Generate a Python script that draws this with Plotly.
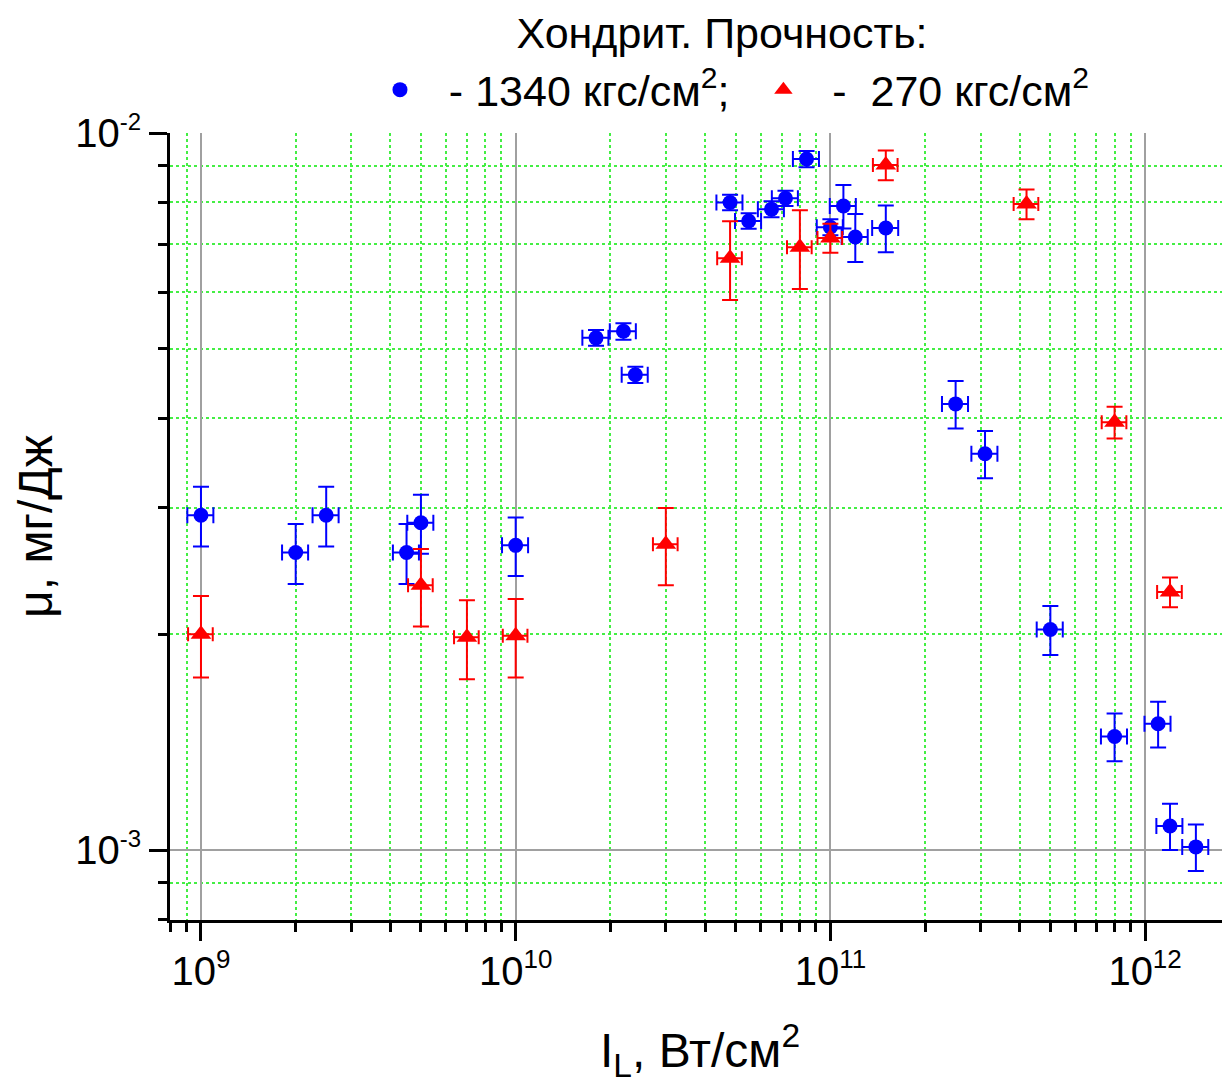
import plotly.graph_objects as go

# --- Data: chondrite, strength 1340 kgf/cm^2 (blue circles) ---
blue_x = [1e9, 2e9, 2.5e9, 4.5e9, 5e9, 1e10, 1.8e10, 2.2e10, 2.4e10, 4.8e10, 5.5e10,
          6.5e10, 7.2e10, 8.4e10, 1.0e11, 1.1e11, 1.2e11, 1.5e11, 2.5e11, 3.1e11,
          5.0e11, 8.0e11, 1.1e12, 1.2e12, 1.45e12]
blue_y = [2.93e-3, 2.60e-3, 2.93e-3, 2.60e-3, 2.86e-3, 2.66e-3, 5.18e-3, 5.29e-3, 4.60e-3,
          8.0e-3, 7.54e-3, 7.83e-3, 8.11e-3, 9.2e-3, 7.39e-3, 7.91e-3, 7.16e-3, 7.37e-3,
          4.19e-3, 3.57e-3, 2.03e-3, 1.44e-3, 1.50e-3, 1.08e-3, 1.01e-3]
blue_yerr = [0.28e-3, 0.25e-3, 0.28e-3, 0.25e-3, 0.27e-3, 0.25e-3, 0.13e-3, 0.14e-3, 0.12e-3,
             0.20e-3, 0.19e-3, 0.20e-3, 0.20e-3, 0.24e-3, 0.19e-3, 0.55e-3, 0.55e-3, 0.55e-3,
             0.32e-3, 0.27e-3, 0.16e-3, 0.11e-3, 0.11e-3, 0.08e-3, 0.075e-3]
blue_xerr_pct = 9.5

# --- Data: chondrite, strength 270 kgf/cm^2 (red triangles) ---
red_x = [1e9, 5e9, 7e9, 1e10, 3e10, 4.8e10, 8e10, 1e11, 1.5e11, 4.2e11, 8e11, 1.2e12]
red_y = [2.0e-3, 2.34e-3, 1.98e-3, 1.99e-3, 2.67e-3, 6.69e-3, 6.93e-3, 7.14e-3, 9.02e-3,
         7.96e-3, 3.95e-3, 2.29e-3]
red_yerr = [0.26e-3, 0.29e-3, 0.25e-3, 0.25e-3, 0.33e-3, 0.84e-3, 0.87e-3, 0.33e-3, 0.43e-3,
            0.38e-3, 0.20e-3, 0.11e-3]
red_xerr_pct = 9.0

# --- Tick labels ---
x_tickvals = [1e9, 1e10, 1e11, 1e12]
x_ticktext = ["10<sup><span style='font-size:26px'>9</span></sup>",
              "10<sup><span style='font-size:26px'>10</span></sup>",
              "10<sup><span style='font-size:26px'>11</span></sup>",
              "10<sup><span style='font-size:26px'>12</span></sup>"]
y_tickvals = [1e-3, 1e-2]
y_ticktext = ["10<sup><span style='font-size:24px'>-3</span></sup>",
              "10<sup><span style='font-size:24px'>-2</span></sup>"]

series_names = ["\u00a0\u00a0- 1340 кгс/см<sup>2</sup>;\u00a0\u00a0",
                "\u00a0\u00a0-\u00a0\u00a0270 кгс/см<sup>2</sup>"]
title_text = "Хондрит. Прочность:"
x_title = "I<sub>L</sub>, Вт/см<sup>2</sup>"
y_title = "μ, мг/Дж"

FONT = "Liberation Sans, Arial, sans-serif"
BLUE = "#0000ff"
RED = "#ff0000"

fig = go.Figure()
fig.add_trace(go.Scatter(
    x=blue_x, y=blue_y, mode="markers", name=series_names[0],
    marker=dict(symbol="circle", size=15, color=BLUE),
    error_y=dict(type="data", array=blue_yerr, color=BLUE, thickness=2, width=8),
    error_x=dict(type="percent", value=blue_xerr_pct, color=BLUE, thickness=2, width=8),
))
fig.add_trace(go.Scatter(
    x=red_x, y=red_y, mode="markers", name=series_names[1],
    marker=dict(symbol="triangle-up", size=18, color=RED),
    error_y=dict(type="data", array=red_yerr, color=RED, thickness=2, width=8),
    error_x=dict(type="percent", value=red_xerr_pct, color=RED, thickness=2, width=7),
))

grid_major = "#a0a0a0"
grid_minor = "#44ee44"

# page has an 8px body margin, so the figure is 8px smaller than the window
W, H = 1222, 1076
fig.update_layout(
    template="none",
    width=W, height=H,
    margin=dict(l=162, r=0, t=125, b=164, autoexpand=False),
    paper_bgcolor="white", plot_bgcolor="white",
    font=dict(family=FONT, size=40, color="black"),
    title=dict(text=title_text, x=(722 - 8) / W, xref="container", xanchor="center",
               y=1 - (33 - 8) / H, yref="container", yanchor="middle",
               font=dict(size=43, family=FONT, color="black")),
    legend=dict(orientation="h", x=0.533, xanchor="center", y=1.055, yanchor="middle",
                font=dict(size=43, family=FONT), bgcolor="rgba(0,0,0,0)",
                itemwidth=40),
    showlegend=True,
)

fig.update_xaxes(
    type="log", range=[8.9016, 12.2698],
    tickmode="array", tickvals=x_tickvals, ticktext=x_ticktext,
    showline=True, linecolor="black", linewidth=3, mirror=False,
    ticks="outside", ticklen=18, tickwidth=3, tickcolor="black",
    tickfont=dict(size=40, family=FONT), ticklabelstandoff=-4,
    showgrid=True, gridcolor=grid_major, gridwidth=2,
    zeroline=False,
    minor=dict(dtick="D1", ticks="outside", ticklen=9, tickwidth=3, tickcolor="black",
               showgrid=True, gridcolor=grid_minor, gridwidth=2, griddash="dot"),
    title=dict(text=x_title, font=dict(size=48, family=FONT), standoff=42),
    automargin=False,
)
fig.update_yaxes(
    type="log", range=[-3.0976, -2.0],
    tickmode="array", tickvals=y_tickvals, ticktext=y_ticktext,
    showline=True, linecolor="black", linewidth=3, mirror=False,
    ticks="outside", ticklen=18, tickwidth=3, tickcolor="black",
    tickfont=dict(size=40, family=FONT),
    showgrid=True, gridcolor=grid_major, gridwidth=2,
    zeroline=False,
    minor=dict(dtick="D1", ticks="outside", ticklen=9, tickwidth=3, tickcolor="black",
               showgrid=True, gridcolor=grid_minor, gridwidth=2, griddash="dot"),
    title=dict(text=y_title, font=dict(size=48, family=FONT), standoff=8),
    automargin=False,
)

fig.write_html("out.html")
